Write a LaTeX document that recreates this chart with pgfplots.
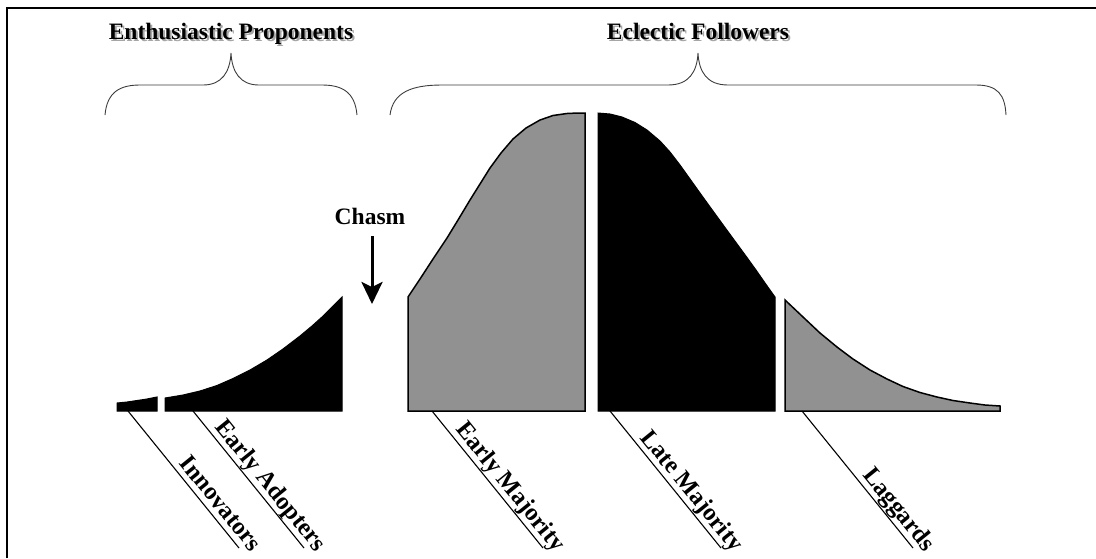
\documentclass[border=0pt]{standalone}
\usepackage{pgfplots}
\pgfplotsset{compat=1.18}
\usepackage{fontspec}
\setmainfont{Liberation Serif}
\usetikzlibrary{arrows.meta}
\definecolor{grain}{RGB}{145,145,145}
\definecolor{brace}{RGB}{60,60,60}
\newcommand{\titlefont}{\bfseries\fontsize{23.5}{28}\selectfont}
\newcommand{\labfont}{\bfseries\fontsize{24.5}{28}\selectfont}
\begin{document}
\begin{tikzpicture}
\begin{axis}[at={(0,0)}, anchor=south west,
  width=1096pt, height=558pt, scale only axis,
  xmin=0, xmax=1096, ymin=0, ymax=558, y dir=reverse,
  hide axis, clip=false]
% Innovators
\addplot[fill=black, draw=black, line width=1pt] coordinates {
 (117,411) (117,403) (127,402) (137,400.5) (147,399) (157,397) (157,411)} -- cycle;
% Early Adopters
\addplot[fill=black, draw=black, line width=1pt] coordinates {
 (165,411) (165,398) (183,395) (200,391) (217,385.5) (233,378.5) (250,370) (267,360)
 (283,349) (300,336) (312,326) (322,317) (332,307) (342,297) (342,411)} -- cycle;
% Early Majority
\addplot[fill=grain, draw=black, line width=1.5pt] coordinates {
 (408,411) (408,297) (420,279) (433,259) (447,238) (458,220) (470,200) (480,184)
 (490,168) (501,153) (513,139) (526,128) (540,120) (553,115.5) (567,113.5) (578,113)
 (585,113) (585,411)} -- cycle;
% Late Majority
\addplot[fill=black, draw=black, line width=1pt] coordinates {
 (598,411) (598,113) (610,114) (622,117) (635,122.5) (647,130) (660,141) (670,152)
 (680,165) (690,179) (700,193) (713,211) (725,227.5) (736,242.5) (747,257.5) (756,270)
 (764,281.5) (770,290) (775,297) (775,411)} -- cycle;
% Laggards
\addplot[fill=grain, draw=black, line width=1.5pt] coordinates {
 (785,411) (785,300) (803,317) (820,333) (837,347) (853,359) (870,370) (887,379)
 (903,386.5) (920,392.5) (937,397) (953,400.5) (970,403) (985,405) (1000,406) (1000,411)} -- cycle;

% label lines
\draw[line width=1.1pt] (axis cs:128,411) -- (axis cs:239,548);
\draw[line width=1.1pt] (axis cs:193,411) -- (axis cs:304,548);
\draw[line width=1.1pt] (axis cs:432,411) -- (axis cs:543,548);
\draw[line width=1.1pt] (axis cs:610,411) -- (axis cs:721,548);
\draw[line width=1.1pt] (axis cs:802,411) -- (axis cs:913,548);
% labels
\node[font=\labfont, anchor=base east, rotate=-51, inner sep=0pt] at (axis cs:251,553) {Innovators};
\node[font=\labfont, anchor=base east, rotate=-51, inner sep=0pt] at (axis cs:316,553) {Early Adopters};
\node[font=\labfont, anchor=base east, rotate=-51, inner sep=0pt] at (axis cs:555,553) {Early Majority};
\node[font=\labfont, anchor=base east, rotate=-51, inner sep=0pt] at (axis cs:733,553) {Late Majority};
\node[font=\labfont, anchor=base east, rotate=-51, inner sep=0pt] at (axis cs:925,553) {Laggards};

% braces
\draw[brace, line width=0.9pt] (axis cs:105,115) .. controls (axis cs:107,92) and (axis cs:120,85) .. (axis cs:140,85)
  -- (axis cs:203,85) .. controls (axis cs:222,85) and (axis cs:230,72) .. (axis cs:231,53)
  .. controls (axis cs:232,72) and (axis cs:240,85) .. (axis cs:259,85)
  -- (axis cs:322,85) .. controls (axis cs:342,85) and (axis cs:355,92) .. (axis cs:357,115);
\draw[brace, line width=0.9pt] (axis cs:390,115) .. controls (axis cs:393,92) and (axis cs:412,85) .. (axis cs:442,85)
  -- (axis cs:668,85) .. controls (axis cs:689,85) and (axis cs:697,72) .. (axis cs:698,53)
  .. controls (axis cs:699,72) and (axis cs:707,85) .. (axis cs:728,85)
  -- (axis cs:976,85) .. controls (axis cs:998,85) and (axis cs:1005,95) .. (axis cs:1006,115);

% titles with soft shadow
\node[font=\titlefont, anchor=base, text=black!35] at (axis cs:233,41) {Enthusiastic Proponents};
\node[font=\titlefont, anchor=base] at (axis cs:231,39) {Enthusiastic Proponents};
\node[font=\titlefont, anchor=base, text=black!35] at (axis cs:700,41) {Eclectic Followers};
\node[font=\titlefont, anchor=base] at (axis cs:698,39) {Eclectic Followers};
\node[font=\titlefont, anchor=base] at (axis cs:370,224) {Chasm};
\draw[line width=3pt, -{Stealth[width=21pt,length=22pt,inset=5pt]}] (axis cs:372,236) -- (axis cs:372,304);

% frame
\draw[line width=2.2pt] (axis cs:7,558) -- (axis cs:7,8) -- (axis cs:1096,8);
\end{axis}
\pgfresetboundingbox
\path[use as bounding box] (0,0) rectangle (1096pt,558pt);
\end{tikzpicture}
\end{document}
